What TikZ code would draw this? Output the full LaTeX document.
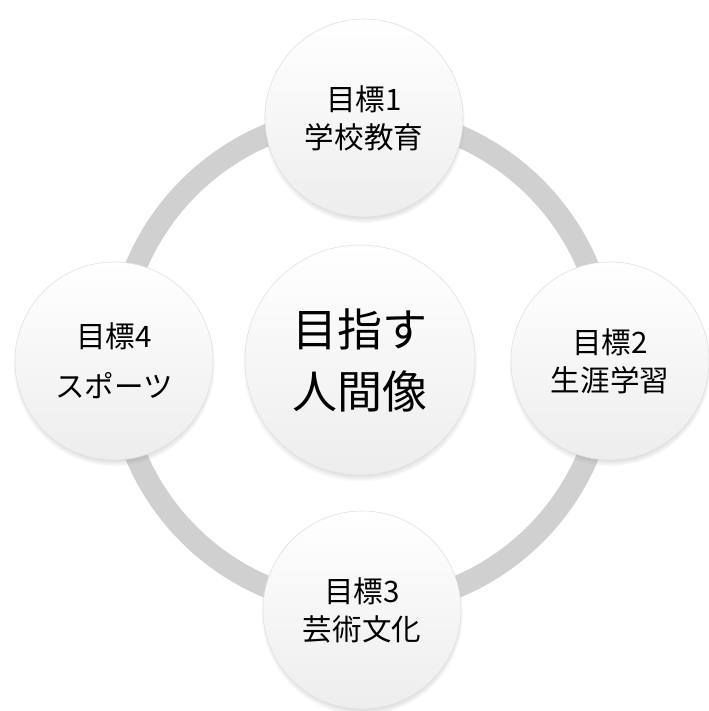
\documentclass[tikz,border=0pt]{standalone}
\usepackage{fontspec}
\newfontfamily\cjkgothic{Noto Sans CJK JP}
\usetikzlibrary{shadows}
\definecolor{ringgray}{RGB}{208,208,208}
\tikzset{
  ball_node/.style = {circle, align=center, inner sep=0pt, text centered,
    draw=gray!25, thin, top color=white, bottom color=gray!14,
    circular drop shadow={shadow xshift=0pt, shadow yshift=-0.1cm,
      shadow scale=1.02, opacity=0.6}},% cercle blanc
  goal_node/.style = {ball_node, minimum size=4.95cm,
    font=\cjkgothic\fontsize{21}{27}\selectfont},% objectif
  aim_node/.style = {ball_node, minimum size=5.75cm,
    font=\cjkgothic\fontsize{32}{44}\selectfont}% centre
}
\begin{document}
\begin{tikzpicture}[x=0.025cm, y=-0.025cm]
  \useasboundingbox (0,0) rectangle (709,711);
  \coordinate (mid) at (362,361);
  \draw [ringgray, line width=0.55cm] (mid) circle [radius=245];
  \node [aim_node] (aim) at (360,360) {目指す\\人間像};
  \node [goal_node] (goal1) at (364,118) {目標1\\学校教育};
  \node [goal_node] (goal2) at (610,361) {目標2\\生涯学習};
  \node [goal_node] (goal3) at (362,610) {目標3\\芸術文化};
  \node [goal_node] (goal4) at (114,361) {目標4\\[0.3cm]スポーツ};
\end{tikzpicture}
\end{document}
